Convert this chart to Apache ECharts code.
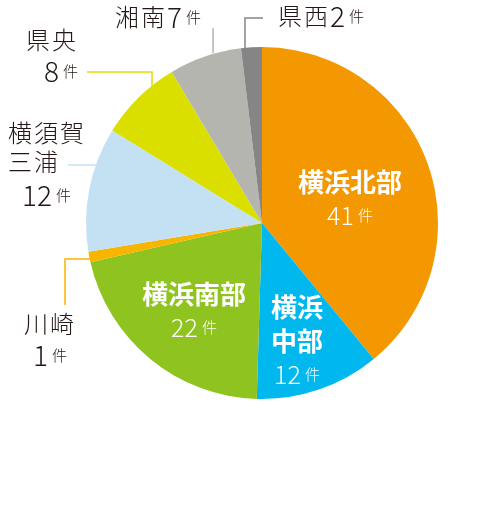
<!doctype html>
<html>
<head>
<meta charset="utf-8">
<title>地域別件数</title>
<script src="https://cdn.jsdelivr.net/npm/echarts@6/dist/echarts.min.js"></script>
<style>
    html,body{
        margin: 0;
        width: 100%;
        height: 100%;
        background: #fff;
    }
    #pie_chart{
        width: 500px;
        height: 517px;
    }
</style>
</head>
<body>
    <div id="pie_chart"></div>
</body>
<script>
    // 地域と件数
    var areas  = ['横浜北部', '横浜中部', '横浜南部', '川崎', '横須賀三浦', '県央', '湘南', '県西'];
    var counts = [41, 12, 22, 1, 12, 8, 7, 2];
    var colors = ['#f39800', '#00b7ee', '#8fc31f', '#f8b500', '#c4e1f4', '#dadf00', '#b5b5b0', '#858585'];
    // ラベルの表示名（改行入り）
    var labelNames = ['横浜北部', '横浜\n中部', '横浜南部', '川崎', '横須賀\n三浦', '県央', '湘南', '県西'];
    var insideCount = 3;   // 先頭3つは円の中にラベル

    // ラベル位置と引き出し線
    var labelPos = [
        {x: 350, y: 198, align: 'center'},
        {x: 297, y: 340, align: 'center'},
        {x: 194, y: 310, align: 'center'},
        {x: 50,  y: 341, align: 'center', line: [[90,259],[65,259],[65,305]]},
        {x: 8,   y: 166, align: 'left',   line: [[96,165],[82,165],[68,165]]},
        {x: 78,  y: 57,  align: 'right',  line: [[152,86],[152,72],[87,72]]},
        {x: 115, y: 17,  align: 'left',   line: [[213,53],[213,40],[213,28]]},
        {x: 278, y: 16,  align: 'left',   line: [[245,48],[245,18],[263,18]]}
    ];

    // 一文字ずつ包んで字間をあける
    function chars(s, style) {
        return s.split('').map(function(c){ return '{' + style + '|' + c + '}'; }).join('');
    }

    function labelText(i) {
        var lines = labelNames[i].split('\n');
        if (i < insideCount) {
            return lines.map(function(s){ return '{b|' + s + '}'; }).join('\n') +
                '\n{bn|' + counts[i] + '}{bu|件}';
        }
        if (i >= 6) {
            return chars(lines[0], 't') + '{n|' + counts[i] + '}{u|件}';
        }
        var numStyle = (i == 4) ? 'ni' : 'n';
        return lines.map(function(s){ return chars(s, 't'); }).join('\n') +
            '\n{' + numStyle + '|' + counts[i] + '}{u|件}';
    }

    var font = '"Noto Sans CJK JP"';
    var dark = '#231815';
    var pieData = areas.map(function(name, i){
        var item = {name: name, value: counts[i], itemStyle: {color: colors[i]}};
        if (i < insideCount) {
            item.labelLine = {show: false};
        }
        return item;
    });

    var pie_chart = echarts.init(document.getElementById('pie_chart'));
    var pie_option = {
        animation: false,
        series: [{
            type: 'pie',
            center: [262, 223],
            radius: [0, 176],
            startAngle: 90,
            clockwise: true,
            avoidLabelOverlap: false,
            itemStyle: {borderWidth: 0},
            emphasis: {disabled: true},
            label: {
                show: true,
                position: 'outside',
                formatter: function(p){ return labelText(p.dataIndex); },
                fontFamily: font,
                rich: {
                    b:  {fontFamily: font, fontSize: 26, fontWeight: 'bold', color: '#fff', lineHeight: 34},
                    bn: {fontFamily: font, fontSize: 25, fontWeight: 300, color: '#fff', lineHeight: 32},
                    bu: {fontFamily: font, fontSize: 15, fontWeight: 300, color: '#fff', padding: [0,0,0,4]},
                    t:  {fontFamily: font, fontSize: 24, fontWeight: 300, color: dark, lineHeight: 29, padding: [0,2,0,0]},
                    n:  {fontFamily: font, fontSize: 28, fontWeight: 300, color: dark, lineHeight: 34},
                    ni: {fontFamily: font, fontSize: 28, fontWeight: 300, color: dark, lineHeight: 38, padding: [0,0,0,14]},
                    u:  {fontFamily: font, fontSize: 15, fontWeight: 300, color: dark, padding: [0,0,0,4]}
                }
            },
            labelLine: {
                show: true,
                lineStyle: {width: 1.5}
            },
            labelLayout: function(params){
                var p = labelPos[params.dataIndex];
                var res = {x: p.x, y: p.y, align: p.align, verticalAlign: 'middle'};
                if (p.line) {
                    res.labelLinePoints = p.line;
                }
                return res;
            },
            data: pieData
        }]
    };
    pie_chart.setOption(pie_option);
</script>
</html>
